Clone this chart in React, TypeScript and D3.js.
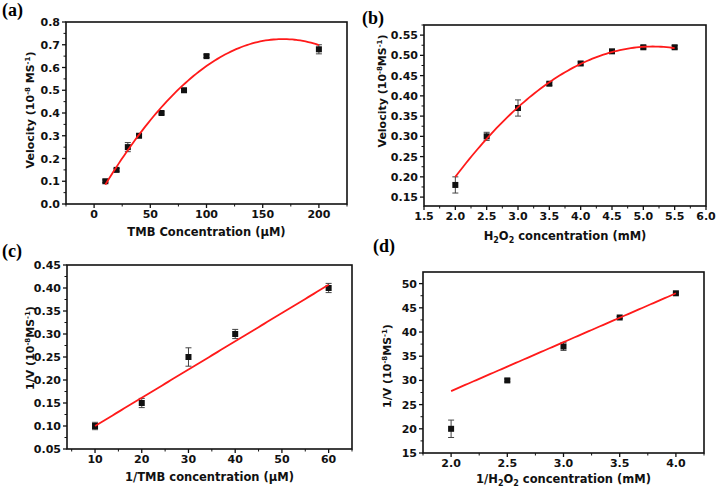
import React from "react";
import * as d3 from "d3";

// ---- Data ----
const tmbConc = [10, 20, 30, 40, 60, 80, 100, 200];
const tmbVel = [0.1, 0.15, 0.25, 0.3, 0.4, 0.5, 0.65, 0.68];
const tmbErr = [0.006, 0.006, 0.02, 0.006, 0.005, 0.005, 0.006, 0.02];
const tmbFit = [0.0013, 0.008615, -2.564e-5]; // quadratic coefficients

const h2o2Conc = [2.0, 2.5, 3.0, 3.5, 4.0, 4.5, 5.0, 5.5];
const h2o2Vel = [0.18, 0.3, 0.37, 0.43, 0.48, 0.51, 0.52, 0.52];
const h2o2Err = [0.02, 0.01, 0.02, 0.004, 0.004, 0.004, 0.004, 0.004];
const h2o2Fit = [-0.3387, 0.33422, -0.03245];

const invTmb = [10, 20, 30, 40, 60];
const invTmbV = [0.1, 0.15, 0.25, 0.3, 0.4];
const invTmbErr = [0.008, 0.01, 0.02, 0.01, 0.01];
const invTmbFit = [0.0386, 0.00614, 0];

const invH2o2 = [2.0, 2.5, 3.0, 3.5, 4.0];
const invH2o2V = [20, 30, 37, 43, 48];
const invH2o2Err = [1.8, 0.3, 0.8, 0.2, 0.2];
const invH2o2Fit = [7.6, 10.1, 0];

const ticksAX = [0, 50, 100, 150, 200];
const ticksAY = [0, 0.1, 0.2, 0.3, 0.4, 0.5, 0.6, 0.7, 0.8];
const ticksBX = [1.5, 2.0, 2.5, 3.0, 3.5, 4.0, 4.5, 5.0, 5.5, 6.0];
const ticksBY = [0.15, 0.2, 0.25, 0.3, 0.35, 0.4, 0.45, 0.5, 0.55];
const ticksCX = [10, 20, 30, 40, 50, 60];
const ticksCY = [0.05, 0.1, 0.15, 0.2, 0.25, 0.3, 0.35, 0.4, 0.45];
const ticksDX = [2.0, 2.5, 3.0, 3.5, 4.0];
const ticksDY = [15, 20, 25, 30, 35, 40, 45, 50];

const FONT = "'DejaVu Sans', Verdana, sans-serif";

type PanelProps = {
  box: [number, number, number, number];
  xDom: [number, number];
  yDom: [number, number];
  xTicks: number[];
  yTicks: number[];
  xMinor: number;
  yMinor: number;
  xFmt: string;
  yFmt: string;
  xs: number[];
  ys: number[];
  errs: number[];
  fit: number[];
  fitRange: [number, number];
  xTitle: React.ReactNode;
  yTitle: React.ReactNode;
  xTitleY: number;
  yTitleX: number;
  yTitleCY: number;
  label: string;
  labelX: number;
  labelY: number;
};

function Panel(p: PanelProps) {
  const [l, t, r, b] = p.box;
  const x = d3.scaleLinear().domain(p.xDom).range([l, r]);
  const y = d3.scaleLinear().domain(p.yDom).range([b, t]);
  const eps = 1e-9;
  const xMinorTicks = d3
    .range(Math.ceil(p.xDom[0] / p.xMinor - eps) * p.xMinor, p.xDom[1] + eps, p.xMinor)
    .filter((v) => !p.xTicks.some((tv) => Math.abs(tv - v) < 1e-6));
  const yMinorTicks = d3
    .range(Math.ceil(p.yDom[0] / p.yMinor - eps) * p.yMinor, p.yDom[1] + eps, p.yMinor)
    .filter((v) => !p.yTicks.some((tv) => Math.abs(tv - v) < 1e-6));
  const f = (v: number) => p.fit[0] + p.fit[1] * v + p.fit[2] * v * v;
  const fitXs = d3.range(p.fitRange[0], p.fitRange[1] + eps, (p.fitRange[1] - p.fitRange[0]) / 80);
  const line = d3
    .line<number>()
    .x((v) => x(v))
    .y((v) => y(f(v)));
  const fx = d3.format(p.xFmt);
  const fy = d3.format(p.yFmt);
  const ms = 6;
  return (
    <g>
      <text x={p.labelX} y={p.labelY} fontFamily="'Liberation Serif', 'Times New Roman', serif" fontWeight="bold" fontSize={18}>
        {p.label}
      </text>
      {/* error bars */}
      {p.xs.map((xv, i) => {
        const cx = x(xv);
        const y1 = y(p.ys[i] + p.errs[i]);
        const y2 = y(p.ys[i] - p.errs[i]);
        return (
          <g key={"e" + i} stroke="#444" strokeWidth={1}>
            <line x1={cx} x2={cx} y1={y1} y2={y2} />
            <line x1={cx - 3} x2={cx + 3} y1={y1} y2={y1} />
            <line x1={cx - 3} x2={cx + 3} y1={y2} y2={y2} />
          </g>
        );
      })}
      {p.xs.map((xv, i) => (
        <rect key={"m" + i} x={x(xv) - ms / 2} y={y(p.ys[i]) - ms / 2} width={ms} height={ms} fill="#111" />
      ))}
      <path d={line(fitXs) || ""} fill="none" stroke="#ff1a1a" strokeWidth={1.8} />
      {/* frame */}
      <rect x={l} y={t} width={r - l} height={b - t} fill="none" stroke="#111" strokeWidth={1.6} />
      {/* x ticks */}
      {p.xTicks.map((v) => (
        <g key={"xt" + v}>
          <line x1={x(v)} x2={x(v)} y1={b} y2={b + 4} stroke="#111" strokeWidth={1.3} />
          <text x={x(v)} y={b + 14} textAnchor="middle" fontFamily={FONT} fontWeight="bold" fontSize={11} fill="#111">
            {fx(v)}
          </text>
        </g>
      ))}
      {xMinorTicks.map((v) => (
        <line key={"xm" + v} x1={x(v)} x2={x(v)} y1={b} y2={b + 2.5} stroke="#111" strokeWidth={1} />
      ))}
      {p.yTicks.map((v) => (
        <g key={"yt" + v}>
          <line x1={l - 4} x2={l} y1={y(v)} y2={y(v)} stroke="#111" strokeWidth={1.3} />
          <text x={l - 6} y={y(v) + 4} textAnchor="end" fontFamily={FONT} fontWeight="bold" fontSize={11} fill="#111">
            {fy(v)}
          </text>
        </g>
      ))}
      {yMinorTicks.map((v) => (
        <line key={"ym" + v} x1={l - 2.5} x2={l} y1={y(v)} y2={y(v)} stroke="#111" strokeWidth={1} />
      ))}
      <text x={(l + r) / 2} y={p.xTitleY} textAnchor="middle" fontFamily={FONT} fontWeight="bold" fontSize={11.5} fill="#111">
        {p.xTitle}
      </text>
      <text
        transform={`translate(${p.yTitleX},${p.yTitleCY}) rotate(-90)`}
        textAnchor="middle"
        fontFamily={FONT}
        fontWeight="bold"
        fontSize={11}
        fill="#111"
      >
        {p.yTitle}
      </text>
    </g>
  );
}

export default function App() {
  return (
    <svg width={716} height={489} style={{ position: "absolute", left: 0, top: 0, background: "#fff" }}>
      <rect width={716} height={489} fill="#fff" />
      <Panel
        box={[66, 22, 347, 204]}
        xDom={[-25, 225]}
        yDom={[0, 0.8]}
        xTicks={ticksAX}
        yTicks={ticksAY}
        xMinor={25}
        yMinor={0.05}
        xFmt="d"
        yFmt=".1f"
        xs={tmbConc}
        ys={tmbVel}
        errs={tmbErr}
        fit={tmbFit}
        fitRange={[10, 200]}
        xTitle={<>TMB Concentration (μM)</>}
        yTitle={
          <>
            Velocity (10<tspan dy={-4} fontSize={7}>-8</tspan>
            <tspan dy={4}> MS</tspan>
            <tspan dy={-4} fontSize={7}>-1</tspan>
            <tspan dy={4}>)</tspan>
          </>
        }
        xTitleY={236}
        yTitleX={34}
        yTitleCY={110}
        label="(a)"
        labelX={2}
        labelY={16}
      />
      <Panel
        box={[424, 25, 706, 206]}
        xDom={[1.5, 6.0]}
        yDom={[0.128, 0.575]}
        xTicks={ticksBX}
        yTicks={ticksBY}
        xMinor={0.25}
        yMinor={0.025}
        xFmt=".1f"
        yFmt=".2f"
        xs={h2o2Conc}
        ys={h2o2Vel}
        errs={h2o2Err}
        fit={h2o2Fit}
        fitRange={[2.0, 5.5]}
        xTitle={
          <>
            H<tspan dy={3} fontSize={8}>2</tspan>
            <tspan dy={-3}>O</tspan>
            <tspan dy={3} fontSize={8}>2</tspan>
            <tspan dy={-3}> concentration (mM)</tspan>
          </>
        }
        yTitle={
          <>
            Velocity (10<tspan dy={-4} fontSize={7}>-8</tspan>
            <tspan dy={4}>MS</tspan>
            <tspan dy={-4} fontSize={7}>-1</tspan>
            <tspan dy={4}>)</tspan>
          </>
        }
        xTitleY={240}
        yTitleX={386}
        yTitleCY={91}
        label="(b)"
        labelX={362}
        labelY={24}
      />
      <Panel
        box={[67, 265, 352, 449]}
        xDom={[4, 65]}
        yDom={[0.05, 0.45]}
        xTicks={ticksCX}
        yTicks={ticksCY}
        xMinor={5}
        yMinor={0.025}
        xFmt="d"
        yFmt=".2f"
        xs={invTmb}
        ys={invTmbV}
        errs={invTmbErr}
        fit={invTmbFit}
        fitRange={[10, 60]}
        xTitle={<>1/TMB concentration (μM)</>}
        yTitle={
          <>
            1/V (10<tspan dy={-4} fontSize={7}>-8</tspan>
            <tspan dy={4}>MS</tspan>
            <tspan dy={-4} fontSize={7}>-1</tspan>
            <tspan dy={4}>)</tspan>
          </>
        }
        xTitleY={481}
        yTitleX={34}
        yTitleCY={348}
        label="(c)"
        labelX={2}
        labelY={257}
      />
      <Panel
        box={[423, 272, 704, 453]}
        xDom={[1.75, 4.25]}
        yDom={[15, 52.4]}
        xTicks={ticksDX}
        yTicks={ticksDY}
        xMinor={0.25}
        yMinor={2.5}
        xFmt=".1f"
        yFmt="d"
        xs={invH2o2}
        ys={invH2o2V}
        errs={invH2o2Err}
        fit={invH2o2Fit}
        fitRange={[2.0, 4.0]}
        xTitle={
          <>
            1/H<tspan dy={3} fontSize={8}>2</tspan>
            <tspan dy={-3}>O</tspan>
            <tspan dy={3} fontSize={8}>2</tspan>
            <tspan dy={-3}> concentration (mM)</tspan>
          </>
        }
        yTitle={
          <>
            1/V (10<tspan dy={-4} fontSize={7}>-8</tspan>
            <tspan dy={4}>MS</tspan>
            <tspan dy={-4} fontSize={7}>-1</tspan>
            <tspan dy={4}>)</tspan>
          </>
        }
        xTitleY={483}
        yTitleX={391}
        yTitleCY={366}
        label="(d)"
        labelX={373}
        labelY={252}
      />
    </svg>
  );
}
